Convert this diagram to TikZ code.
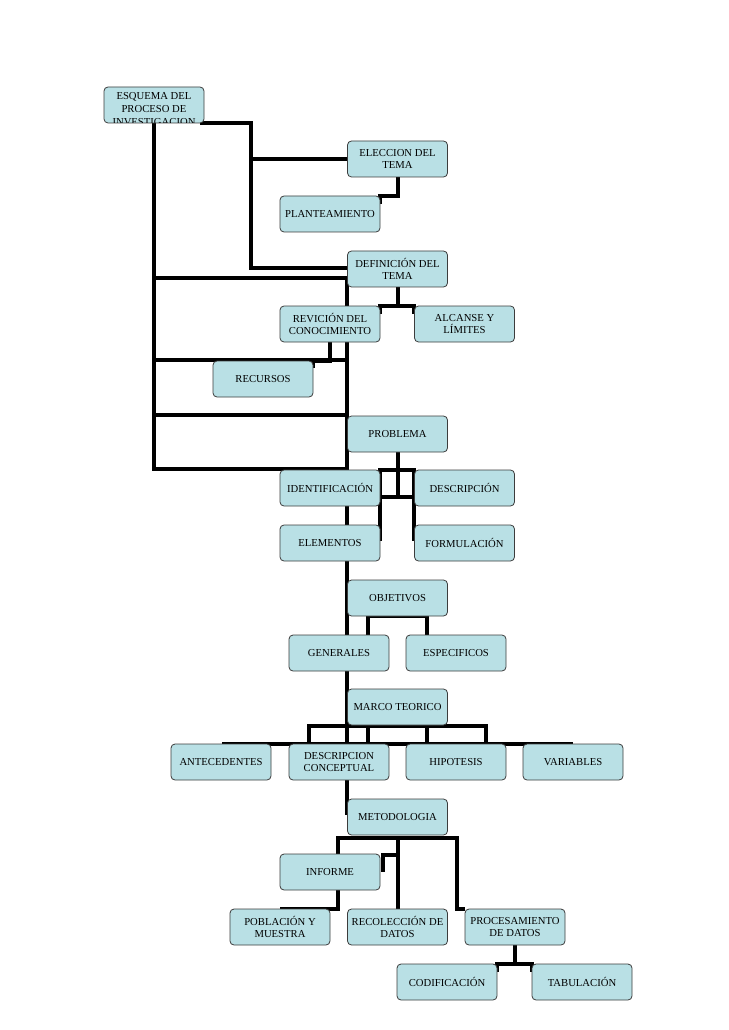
\documentclass[tikz,border=0pt]{standalone}
\usepackage{fontspec}
\setmainfont{Liberation Serif}
\definecolor{boxfill}{RGB}{185,224,229}
\definecolor{boxline}{RGB}{60,60,60}
\begin{document}
\begin{tikzpicture}[x=0.75pt,y=-0.75pt,
  bx/.style={draw=boxline,fill=boxfill,rounded corners=3pt,line width=0.6pt,minimum width=75pt,minimum height=27pt,inner sep=1pt,align=center,font=\fontsize{8}{9.5}\selectfont},
  ln/.style={line width=2.3pt,black}]
\useasboundingbox (0,0) rectangle (728,1030);
% connectors first
\coordinate (t0) at (154,123);
\draw[ln] (154,123) -- (154,469) -- (347,469);
\draw[ln] (200,123) -- (251,123) -- (251,268) -- (347,268);
\draw[ln] (251,159) -- (347,159);
\draw[ln] (398,177) -- (398,196) -- (380,196) -- (380,204);
\draw[ln] (154,278) -- (347,278) -- (347,815);
\draw[ln] (154,360) -- (347,360);
\draw[ln] (154,415) -- (347,415);
\draw[ln] (330,342) -- (330,361) -- (313,361) -- (313,368);
\draw[ln] (398,287) -- (398,306);
\draw[ln] (380,314) -- (380,306) -- (414,306) -- (414,314);
\draw[ln] (398,452) -- (398,497);
\draw[ln] (380,541) -- (380,470) -- (414,470) -- (414,541);
\draw[ln] (380,497) -- (414,497);
\draw[ln] (368,635) -- (368,616) -- (427,616) -- (427,635);
\draw[ln] (309,744) -- (309,726) -- (486,726) -- (486,744);
\draw[ln] (368,726) -- (368,744);
\draw[ln] (427,726) -- (427,744);
\draw[ln] (222,744) -- (573,744);
\draw[ln] (338,854) -- (338,838) -- (457,838) -- (457,909) -- (465,909);
\draw[ln] (398,838) -- (398,909);
\draw[ln] (398,855) -- (383,855) -- (383,872);
\draw[ln] (338,890) -- (338,909) -- (280,909);
\draw[ln] (515,945) -- (515,964);
\draw[ln] (497,972) -- (497,964) -- (532,964) -- (532,972);
% boxes
\node[bx] (esq) at (154,105) {};
\begin{scope}
\clip[rounded corners=3pt] (104,87) rectangle (204,123);
\node[font=\fontsize{8}{9.5}\selectfont,align=center,anchor=north] at (154,88) {ESQUEMA DEL\\PROCESO DE\\INVESTIGACION};
\end{scope}
\node[bx] (elec) at (397.5,159) {ELECCION DEL\\TEMA};
\node[bx] (plan) at (330,214) {PLANTEAMIENTO};
\node[bx] (def) at (397.5,269) {DEFINICIÓN DEL\\TEMA};
\node[bx] (rev) at (330,324) {REVICIÓN DEL\\CONOCIMIENTO};
\node[bx] (alc) at (464.5,324) {ALCANSE Y\\LÍMITES};
\node[bx] (rec) at (263,379) {RECURSOS};
\node[bx] (prob) at (397.5,434) {PROBLEMA};
\node[bx] (iden) at (330,488) {IDENTIFICACIÓN};
\node[bx] (desc) at (464.5,488) {DESCRIPCIÓN};
\node[bx] (elem) at (330,543) {ELEMENTOS};
\node[bx] (form) at (464.5,543) {FORMULACIÓN};
\node[bx] (obj) at (397.5,598) {OBJETIVOS};
\node[bx] (gen) at (339,653) {GENERALES};
\node[bx] (esp) at (456,653) {ESPECIFICOS};
\node[bx] (marco) at (397.5,707) {MARCO TEORICO};
\node[bx] (ant) at (221,762) {ANTECEDENTES};
\node[bx] (dcon) at (339,762) {DESCRIPCION\\CONCEPTUAL};
\node[bx] (hip) at (456,762) {HIPOTESIS};
\node[bx] (var) at (573,762) {VARIABLES};
\node[bx] (met) at (397.5,817) {METODOLOGIA};
\node[bx] (inf) at (330,872) {INFORME};
\node[bx] (pob) at (280,927) {POBLACIÓN Y\\MUESTRA};
\node[bx] (reco) at (397.5,927) {RECOLECCIÓN DE\\DATOS};
\node[bx] (proc) at (515,927) {PROCESAMIENTO\\DE DATOS};
\node[bx] (cod) at (447,982) {CODIFICACIÓN};
\node[bx] (tab) at (582,982) {TABULACIÓN};
\end{tikzpicture}
\end{document}
